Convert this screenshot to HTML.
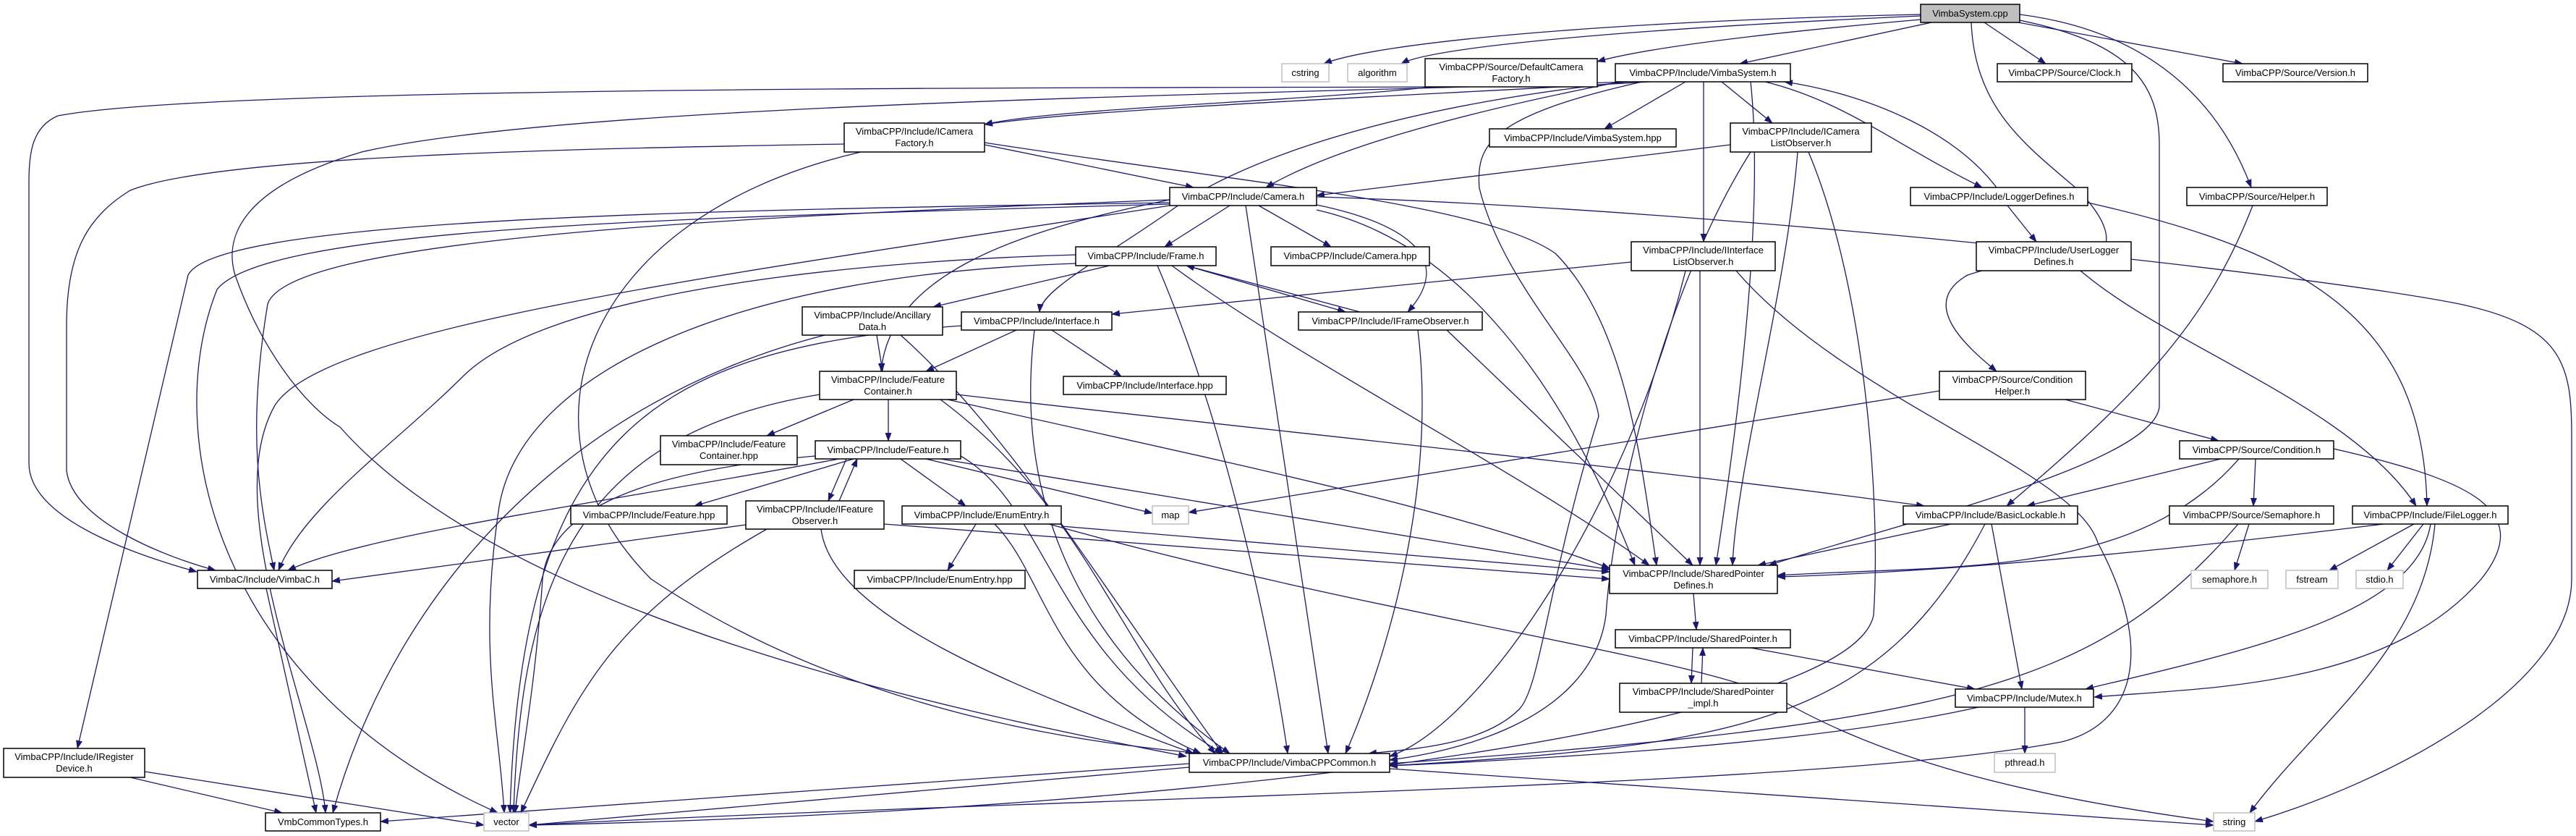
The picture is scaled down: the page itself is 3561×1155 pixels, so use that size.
<!DOCTYPE html>
<html><head><meta charset="utf-8"><style>
html,body{margin:0;padding:0;background:#fff;}
svg{display:block;}
text{font-family:"Liberation Sans","DejaVu Sans",sans-serif;font-size:13px;fill:#000;}
.e{fill:none;stroke:#191970;stroke-width:1.3;marker-end:url(#a);}
.n{fill:#fff;stroke:#000;stroke-width:1.5;}
.g{fill:#fff;stroke:#bfbfbf;stroke-width:1.5;}
</style></head><body>
<svg width="3561" height="1155" viewBox="0 0 3561 1155" xmlns="http://www.w3.org/2000/svg">
<defs><marker id="a" markerUnits="userSpaceOnUse" markerWidth="12" markerHeight="9" refX="11" refY="4.5" orient="auto"><path d="M0,0 L12,4.5 L0,9 z" fill="#191970"/></marker></defs>
<g>
<path class="e" d="M2655,20 C2200,30 1900,60 1830,88"/>
<path class="e" d="M2655,22 C2250,40 1980,65 1937,88"/>
<path class="e" d="M2655,27 C2450,45 2280,65 2208,85"/>
<path class="e" d="M2670,31 L2405,88"/>
<path class="e" d="M2743,31 L2828,88"/>
<path class="e" d="M2790,31 L3100,88"/>
<path class="e" d="M2792,20 C2950,40 3060,120 3112,259"/>
<path class="e" d="M2725,31 C2730,150 2800,200 2870,260 C2910,300 2930,340 2890,360 C2850,372 2810,350 2720,380 C2650,420 2720,480 2760,513"/>
<path class="e" d="M2792,28 C2950,60 2985,120 2985,200 L2985,560 C2985,640 2600,730 2445,781"/>
<path class="e" d="M1980,120 C1800,140 1450,150 1361,172"/>
<path class="e" d="M1970,120 C1500,122 300,118 80,160 C45,175 40,210 40,250 L40,640 C40,720 200,770 272,790"/>
<path class="e" d="M2280,113 C2000,130 1500,150 1361,172"/>
<path class="e" d="M2250,113 C1800,130 800,140 500,210 C330,260 310,330 325,380 C360,480 420,560 470,590 C700,850 1300,980 1640,1045"/>
<path class="e" d="M2330,113 L2218,178"/>
<path class="e" d="M2380,113 L2450,170"/>
<path class="e" d="M2355,113 L2355,334"/>
<path class="e" d="M2440,113 C2550,140 2620,200 2740,259"/>
<path class="e" d="M2760,259 C2700,180 2580,130 2467,113"/>
<path class="e" d="M2240,113 C2050,150 1850,200 1750,259"/>
<path class="e" d="M2250,113 C1900,150 1700,230 1620,290 C1520,360 1440,400 1437,431"/>
<path class="e" d="M2420,113 C2440,300 2400,600 2372,781"/>
<path class="e" d="M2270,113 C2060,160 2040,200 2045,260 C2080,400 2200,500 2210,575 C2140,800 2130,950 2100,980 C2050,1030 1950,1035 1892,1041"/>
<path class="e" d="M1361,200 L1650,259"/>
<path class="e" d="M1361,197 C1700,250 2050,280 2150,350 C2250,450 2270,650 2290,781"/>
<path class="e" d="M1167,199 C800,205 300,215 180,263 C120,300 92,350 92,450 L92,650 C100,720 230,770 298,788"/>
<path class="e" d="M1190,210 C800,300 700,600 900,800 C1200,1000 1550,1030 1660,1041"/>
<path class="e" d="M2392,200 L1820,270"/>
<path class="e" d="M2485,210 C2470,400 2400,650 2395,781"/>
<path class="e" d="M2420,210 C2300,400 2230,700 2220,850 C2200,1000 2000,1040 1921,1050"/>
<path class="e" d="M2500,210 C2580,400 2600,700 2590,850 C2560,1000 1700,1120 731,1140"/>
<path class="e" d="M1700,284 L1610,341"/>
<path class="e" d="M1740,284 L1840,341"/>
<path class="e" d="M1820,283 C1950,310 2010,360 1946,431"/>
<path class="e" d="M1820,290 C2000,330 2150,500 2260,781"/>
<path class="e" d="M1722,284 L1836,1041"/>
<path class="e" d="M1820,272 C2400,290 3200,380 3400,420 C3540,450 3555,500 3555,600 L3555,800 C3555,950 3300,1080 3117,1135"/>
<path class="e" d="M1617,276 C1400,320 1230,380 1218,513"/>
<path class="e" d="M1617,276 C1000,300 400,330 370,420 C340,600 360,700 379,788"/>
<path class="e" d="M1617,282 C1000,300 370,310 300,400 C220,600 300,950 688,1123"/>
<path class="e" d="M1617,280 C1000,290 300,300 260,380 L107,1034"/>
<path class="e" d="M1617,284 C1000,380 450,450 380,560 C300,700 440,1000 450,1123"/>
<path class="e" d="M1534,367 L1290,424"/>
<path class="e" d="M1640,367 L1860,431"/>
<path class="e" d="M1880,431 L1640,367"/>
<path class="e" d="M1487,352 C1200,360 760,400 640,520 C550,610 420,700 385,788"/>
<path class="e" d="M1487,364 C1000,380 720,520 690,700 C660,900 690,1000 697,1123"/>
<path class="e" d="M1620,367 C1800,500 2100,650 2280,781"/>
<path class="e" d="M1600,367 C1700,600 1760,900 1780,1041"/>
<path class="e" d="M2000,456 L2340,781"/>
<path class="e" d="M1960,456 C1990,700 1900,950 1860,1041"/>
<path class="e" d="M1212,463 L1220,513"/>
<path class="e" d="M1140,463 C800,550 550,800 460,1123"/>
<path class="e" d="M1245,463 C1400,600 1550,850 1690,1041"/>
<path class="e" d="M1405,456 L1280,513"/>
<path class="e" d="M1454,456 L1550,520"/>
<path class="e" d="M1329,450 C900,480 720,600 705,1123"/>
<path class="e" d="M1430,456 C1400,700 1500,900 1700,1041"/>
<path class="e" d="M2255,362 L1537,434"/>
<path class="e" d="M2350,374 L2350,781"/>
<path class="e" d="M2330,374 C2250,700 2050,1000 1921,1045"/>
<path class="e" d="M2400,374 C2550,550 2870,650 2900,750 C2980,900 2950,1000 2850,1025 C2500,1090 1500,1100 731,1140"/>
<path class="e" d="M2775,284 L2815,334"/>
<path class="e" d="M2886,280 C3200,350 3350,450 3355,699"/>
<path class="e" d="M2876,374 C3000,480 3250,560 3340,699"/>
<path class="e" d="M3114,284 C3050,450 2950,550 2774,699"/>
<path class="e" d="M2855,552 L3067,609"/>
<path class="e" d="M2681,540 L1643,708"/>
<path class="e" d="M3070,634 L2802,699"/>
<path class="e" d="M3118,634 L3115,699"/>
<path class="e" d="M3226,620 C3400,660 3510,700 3430,800 C3300,950 3050,950 2895,963"/>
<path class="e" d="M3095,634 C2950,800 2700,780 2457,795"/>
<path class="e" d="M2697,724 L2430,781"/>
<path class="e" d="M2753,724 L2795,952"/>
<path class="e" d="M2744,724 C2600,1000 2400,1030 1921,1058"/>
<path class="e" d="M3094,724 C2900,950 2700,1000 1921,1055"/>
<path class="e" d="M3109,724 L3089,788"/>
<path class="e" d="M3337,724 L3220,788"/>
<path class="e" d="M3350,724 L3300,788"/>
<path class="e" d="M3360,724 C3340,850 3100,900 2883,952"/>
<path class="e" d="M3366,724 C3350,900 3200,1000 3110,1123"/>
<path class="e" d="M3295,724 C3000,760 2700,790 2457,797"/>
<path class="e" d="M2341,820 L2345,870"/>
<path class="e" d="M2340,895 L2338,944"/>
<path class="e" d="M2352,944 L2354,895"/>
<path class="e" d="M2420,895 L2730,952"/>
<path class="e" d="M2799,977 L2799,1041"/>
<path class="e" d="M2735,977 C2500,1030 2100,1050 1921,1058"/>
<path class="e" d="M1644,1055 L526,1135"/>
<path class="e" d="M1644,1060 L731,1140"/>
<path class="e" d="M1921,1062 L3060,1140"/>
<path class="e" d="M368,813 L437,1123"/>
<path class="e" d="M180,1074 L390,1123"/>
<path class="e" d="M200,1066 L669,1140"/>
<path class="e" d="M1228,552 L1228,609"/>
<path class="e" d="M1180,552 L1060,602"/>
<path class="e" d="M1322,545 C1800,600 2300,650 2660,699"/>
<path class="e" d="M1310,552 C1700,640 2000,700 2225,785"/>
<path class="e" d="M1300,552 C1500,700 1550,900 1680,1041"/>
<path class="e" d="M1133,545 C800,600 720,800 710,1123"/>
<path class="e" d="M1180,634 L960,699"/>
<path class="e" d="M1170,634 L1145,692"/>
<path class="e" d="M1160,692 L1185,634"/>
<path class="e" d="M1245,634 L1335,699"/>
<path class="e" d="M1280,634 L1593,709"/>
<path class="e" d="M1300,634 L2225,787"/>
<path class="e" d="M1160,634 C800,700 500,740 398,788"/>
<path class="e" d="M1328,630 C1450,700 1450,900 1690,1041"/>
<path class="e" d="M1127,630 C900,650 760,700 750,800 C740,950 720,1050 712,1123"/>
<path class="e" d="M1031,725 L459,803"/>
<path class="e" d="M1222,724 L2225,800"/>
<path class="e" d="M1135,731 C1150,850 1400,950 1650,1041"/>
<path class="e" d="M1060,731 C850,850 800,950 720,1123"/>
<path class="e" d="M1349,724 L1310,788"/>
<path class="e" d="M1467,727 L2225,790"/>
<path class="e" d="M1375,724 C1450,800 1450,950 1660,1041"/>
<path class="e" d="M1450,724 C1900,850 2300,900 2450,960 C2600,1050 2800,1100 3060,1135"/>
</g>
<g>
<rect x="2655" y="6" width="137" height="25" fill="#bfbfbf" stroke="#000" stroke-width="1.5"/><text x="2723.5" y="23" text-anchor="middle">VimbaSystem.cpp</text>
<rect class="g" x="1772" y="88" width="65" height="25"/><text x="1804.5" y="105" text-anchor="middle">cstring</text>
<rect class="g" x="1863" y="88" width="82" height="25"/><text x="1904" y="105" text-anchor="middle">algorithm</text>
<rect class="n" x="1970" y="81" width="238" height="39"/><text x="2089" y="97" text-anchor="middle">VimbaCPP/Source/DefaultCamera</text><text x="2089" y="113" text-anchor="middle">Factory.h</text>
<rect class="n" x="2233" y="88" width="242" height="25"/><text x="2354" y="105" text-anchor="middle">VimbaCPP/Include/VimbaSystem.h</text>
<rect class="n" x="2761" y="88" width="186" height="25"/><text x="2854" y="105" text-anchor="middle">VimbaCPP/Source/Clock.h</text>
<rect class="n" x="3073" y="88" width="200" height="25"/><text x="3173" y="105" text-anchor="middle">VimbaCPP/Source/Version.h</text>
<rect class="n" x="1167" y="170" width="194" height="40"/><text x="1264" y="186" text-anchor="middle">VimbaCPP/Include/ICamera</text><text x="1264" y="202" text-anchor="middle">Factory.h</text>
<rect class="n" x="2059" y="178" width="258" height="25"/><text x="2188" y="195" text-anchor="middle">VimbaCPP/Include/VimbaSystem.hpp</text>
<rect class="n" x="2392" y="170" width="195" height="40"/><text x="2489.5" y="186" text-anchor="middle">VimbaCPP/Include/ICamera</text><text x="2489.5" y="202" text-anchor="middle">ListObserver.h</text>
<rect class="n" x="1617" y="259" width="203" height="25"/><text x="1718.5" y="276" text-anchor="middle">VimbaCPP/Include/Camera.h</text>
<rect class="n" x="2641" y="259" width="245" height="25"/><text x="2763.5" y="276" text-anchor="middle">VimbaCPP/Include/LoggerDefines.h</text>
<rect class="n" x="3023" y="259" width="194" height="25"/><text x="3120" y="276" text-anchor="middle">VimbaCPP/Source/Helper.h</text>
<rect class="n" x="1487" y="341" width="194" height="26"/><text x="1584" y="358" text-anchor="middle">VimbaCPP/Include/Frame.h</text>
<rect class="n" x="1757" y="341" width="219" height="26"/><text x="1866.5" y="358" text-anchor="middle">VimbaCPP/Include/Camera.hpp</text>
<rect class="n" x="2255" y="334" width="199" height="40"/><text x="2354.5" y="350" text-anchor="middle">VimbaCPP/Include/IInterface</text><text x="2354.5" y="366" text-anchor="middle">ListObserver.h</text>
<rect class="n" x="2732" y="334" width="214" height="40"/><text x="2839" y="350" text-anchor="middle">VimbaCPP/Include/UserLogger</text><text x="2839" y="366" text-anchor="middle">Defines.h</text>
<rect class="n" x="1109" y="424" width="194" height="39"/><text x="1206" y="440" text-anchor="middle">VimbaCPP/Include/Ancillary</text><text x="1206" y="456" text-anchor="middle">Data.h</text>
<rect class="n" x="1329" y="431" width="208" height="25"/><text x="1433" y="448" text-anchor="middle">VimbaCPP/Include/Interface.h</text>
<rect class="n" x="1795" y="431" width="254" height="25"/><text x="1922" y="448" text-anchor="middle">VimbaCPP/Include/IFrameObserver.h</text>
<rect class="n" x="1133" y="513" width="189" height="39"/><text x="1227.5" y="529" text-anchor="middle">VimbaCPP/Include/Feature</text><text x="1227.5" y="545" text-anchor="middle">Container.h</text>
<rect class="n" x="1470" y="520" width="225" height="25"/><text x="1582.5" y="537" text-anchor="middle">VimbaCPP/Include/Interface.hpp</text>
<rect class="n" x="2681" y="513" width="202" height="39"/><text x="2782" y="529" text-anchor="middle">VimbaCPP/Source/Condition</text><text x="2782" y="545" text-anchor="middle">Helper.h</text>
<rect class="n" x="913" y="602" width="189" height="40"/><text x="1007.5" y="618" text-anchor="middle">VimbaCPP/Include/Feature</text><text x="1007.5" y="634" text-anchor="middle">Container.hpp</text>
<rect class="n" x="1127" y="609" width="201" height="25"/><text x="1227.5" y="626" text-anchor="middle">VimbaCPP/Include/Feature.h</text>
<rect class="n" x="3013" y="609" width="213" height="25"/><text x="3119.5" y="626" text-anchor="middle">VimbaCPP/Source/Condition.h</text>
<rect class="n" x="789" y="699" width="216" height="25"/><text x="897" y="716" text-anchor="middle">VimbaCPP/Include/Feature.hpp</text>
<rect class="n" x="1031" y="692" width="191" height="39"/><text x="1126.5" y="708" text-anchor="middle">VimbaCPP/Include/IFeature</text><text x="1126.5" y="724" text-anchor="middle">Observer.h</text>
<rect class="n" x="1247" y="699" width="220" height="25"/><text x="1357" y="716" text-anchor="middle">VimbaCPP/Include/EnumEntry.h</text>
<rect class="g" x="1593" y="699" width="50" height="25"/><text x="1618" y="716" text-anchor="middle">map</text>
<rect class="n" x="2631" y="699" width="241" height="25"/><text x="2751.5" y="716" text-anchor="middle">VimbaCPP/Include/BasicLockable.h</text>
<rect class="n" x="2999" y="699" width="227" height="25"/><text x="3112.5" y="716" text-anchor="middle">VimbaCPP/Source/Semaphore.h</text>
<rect class="n" x="3252" y="699" width="215" height="25"/><text x="3359.5" y="716" text-anchor="middle">VimbaCPP/Include/FileLogger.h</text>
<rect class="n" x="273" y="788" width="186" height="25"/><text x="366" y="805" text-anchor="middle">VimbaC/Include/VimbaC.h</text>
<rect class="n" x="1181" y="788" width="236" height="25"/><text x="1299" y="805" text-anchor="middle">VimbaCPP/Include/EnumEntry.hpp</text>
<rect class="n" x="2225" y="781" width="232" height="39"/><text x="2341" y="797" text-anchor="middle">VimbaCPP/Include/SharedPointer</text><text x="2341" y="813" text-anchor="middle">Defines.h</text>
<rect class="g" x="3029" y="788" width="106" height="25"/><text x="3082" y="805" text-anchor="middle">semaphore.h</text>
<rect class="g" x="3160" y="788" width="72" height="25"/><text x="3196" y="805" text-anchor="middle">fstream</text>
<rect class="g" x="3257" y="788" width="65" height="25"/><text x="3289.5" y="805" text-anchor="middle">stdio.h</text>
<rect class="n" x="2233" y="870" width="242" height="25"/><text x="2354" y="887" text-anchor="middle">VimbaCPP/Include/SharedPointer.h</text>
<rect class="n" x="2239" y="944" width="231" height="40"/><text x="2354.5" y="960" text-anchor="middle">VimbaCPP/Include/SharedPointer</text><text x="2354.5" y="976" text-anchor="middle">_impl.h</text>
<rect class="n" x="2703" y="952" width="191" height="25"/><text x="2798.5" y="969" text-anchor="middle">VimbaCPP/Include/Mutex.h</text>
<rect class="n" x="5" y="1034" width="195" height="40"/><text x="102.5" y="1050" text-anchor="middle">VimbaCPP/Include/IRegister</text><text x="102.5" y="1066" text-anchor="middle">Device.h</text>
<rect class="n" x="1644" y="1041" width="277" height="26"/><text x="1782.5" y="1058" text-anchor="middle">VimbaCPP/Include/VimbaCPPCommon.h</text>
<rect class="g" x="2757" y="1041" width="84" height="26"/><text x="2799" y="1058" text-anchor="middle">pthread.h</text>
<rect class="n" x="367" y="1123" width="159" height="25"/><text x="446.5" y="1140" text-anchor="middle">VmbCommonTypes.h</text>
<rect class="g" x="669" y="1123" width="62" height="25"/><text x="700" y="1140" text-anchor="middle">vector</text>
<rect class="g" x="3060" y="1123" width="57" height="25"/><text x="3088.5" y="1140" text-anchor="middle">string</text>
</g>
</svg>
</body></html>
